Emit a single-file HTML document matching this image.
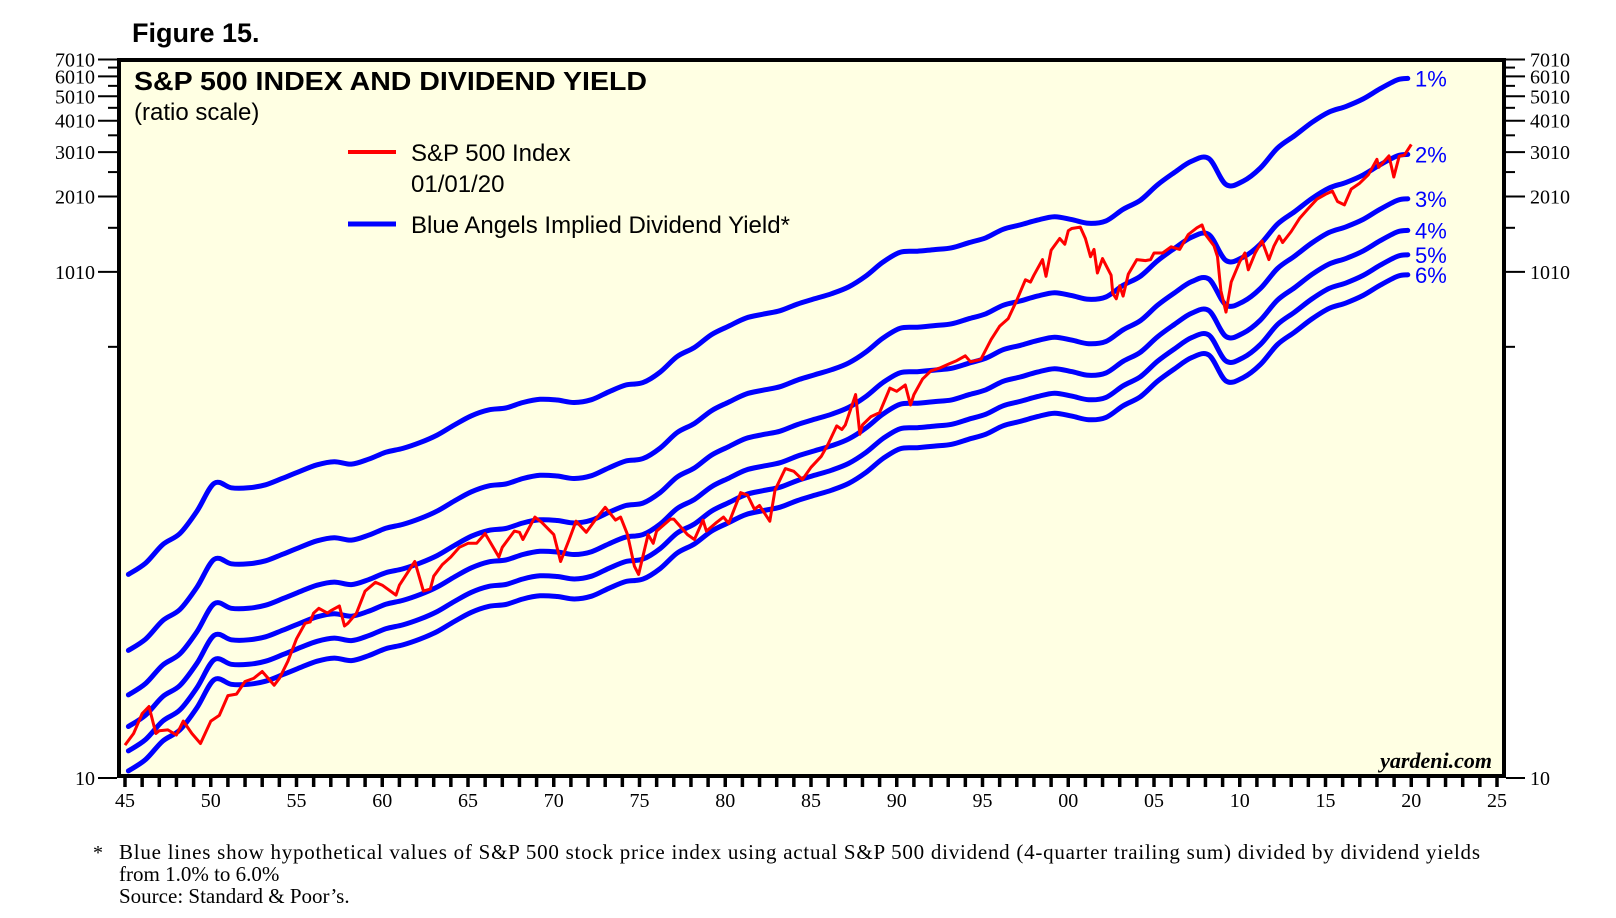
<!DOCTYPE html>
<html><head><meta charset="utf-8"><style>
html,body{margin:0;padding:0;background:#fff;}
svg{display:block;}
text{font-family:"Liberation Sans",sans-serif;}
.serif{font-family:"Liberation Serif",serif;}
</style></head><body>
<svg id="chart" width="1616" height="918" viewBox="0 0 1616 918" xmlns="http://www.w3.org/2000/svg">
<text x="132" y="42" font-size="27" font-weight="bold">Figure 15.</text>
<rect x="119" y="60" width="1385" height="716" fill="#ffffe3" stroke="#000" stroke-width="4"/>
<g id="axes"></g>
<g id="series"></g>
<text x="134" y="90" font-size="26" font-weight="bold" textLength="513" lengthAdjust="spacingAndGlyphs">S&amp;P 500 INDEX AND DIVIDEND YIELD</text>
<text x="134" y="120" font-size="24">(ratio scale)</text>
<line x1="348" y1="152" x2="396" y2="152" stroke="#f00" stroke-width="4"/>
<text x="411" y="161" font-size="24">S&amp;P 500 Index</text>
<text x="411" y="192" font-size="24">01/01/20</text>
<line x1="348" y1="224" x2="396" y2="224" stroke="#00f" stroke-width="5"/>
<text x="411" y="233" font-size="24">Blue Angels Implied Dividend Yield*</text>
<text class="serif" x="1492" y="768" font-size="22" font-style="italic" font-weight="bold" text-anchor="end">yardeni.com</text>
<text class="serif" x="93" y="859" font-size="20">*</text>
<text class="serif" x="119" y="859" font-size="21" textLength="1361">Blue lines show hypothetical values of S&amp;P 500 stock price index using actual S&amp;P 500 dividend (4-quarter trailing sum) divided by dividend yields</text>
<text class="serif" x="119" y="881" font-size="21">from 1.0% to 6.0%</text>
<text class="serif" x="119" y="903" font-size="21">Source: Standard &amp; Poor’s.</text>
</svg>
<script>
const divYears=[1945,1946,1947,1948,1949,1950,1951,1952,1953,1954,1955,1956,1957,1958,1959,1960,1961,1962,1963,1964,1965,1966,1967,1968,1969,1970,1971,1972,1973,1974,1975,1976,1977,1978,1979,1980,1981,1982,1983,1984,1985,1986,1987,1988,1989,1990,1991,1992,1993,1994,1995,1996,1997,1998,1999,2000,2001,2002,2003,2004,2005,2006,2007,2008,2009,2010,2011,2012,2013,2014,2015,2016,2017,2018,2019,2019.8];
const dividends=[0.64,0.71,0.84,0.93,1.14,1.47,1.41,1.41,1.45,1.54,1.64,1.74,1.79,1.75,1.83,1.95,2.02,2.13,2.28,2.50,2.72,2.87,2.92,3.07,3.16,3.14,3.07,3.15,3.38,3.60,3.68,4.05,4.67,5.07,5.70,6.16,6.63,6.87,7.09,7.53,7.90,8.28,8.81,9.73,11.05,12.09,12.20,12.38,12.58,13.18,13.79,14.90,15.50,16.20,16.71,16.27,15.74,16.08,17.88,19.41,22.34,25.05,27.73,28.39,22.41,23.12,26.02,31.25,34.99,39.44,43.39,45.70,48.93,53.75,58.24,59.0];
const yieldsPct=[1,2,3,4,5,6];
const yieldLabels=["1%","2%","3%","4%","5%","6%"];
const spTimes=[1945.0,1945.5,1946.0,1946.4,1946.8,1947.0,1947.5,1948.0,1948.4,1948.9,1949.4,1950.0,1950.5,1951.0,1951.5,1952.0,1952.5,1953.0,1953.7,1954.0,1954.5,1955.0,1955.5,1955.8,1956.0,1956.3,1956.8,1957.0,1957.5,1957.8,1958.0,1958.5,1959.0,1959.6,1960.0,1960.8,1961.0,1961.9,1962.4,1962.8,1963.0,1963.5,1964.0,1964.5,1965.0,1965.5,1966.0,1966.8,1967.0,1967.7,1968.0,1968.2,1968.9,1969.3,1969.8,1970.0,1970.4,1970.9,1971.3,1971.9,1972.5,1973.0,1973.6,1973.9,1974.3,1974.7,1974.95,1975.5,1975.8,1976.0,1976.8,1977.0,1977.8,1978.2,1978.7,1978.9,1979.5,1979.9,1980.2,1980.9,1981.3,1981.7,1982.0,1982.6,1982.9,1983.5,1984.0,1984.5,1985.0,1985.6,1986.0,1986.5,1986.8,1987.0,1987.6,1987.85,1988.0,1988.5,1989.0,1989.6,1990.0,1990.5,1990.8,1991.0,1991.5,1992.0,1992.5,1993.0,1993.5,1994.0,1994.3,1994.9,1995.5,1996.0,1996.5,1997.0,1997.5,1997.8,1998.0,1998.5,1998.7,1999.0,1999.5,1999.8,2000.0,2000.2,2000.7,2001.0,2001.3,2001.5,2001.7,2002.0,2002.5,2002.6,2002.8,2003.0,2003.2,2003.5,2004.0,2004.5,2004.8,2005.0,2005.5,2006.0,2006.5,2007.0,2007.5,2007.8,2008.0,2008.5,2008.7,2008.9,2009.2,2009.5,2010.0,2010.3,2010.5,2010.9,2011.3,2011.7,2012.0,2012.3,2012.5,2013.0,2013.5,2014.0,2014.5,2015.0,2015.4,2015.7,2016.1,2016.5,2017.0,2017.5,2018.0,2018.1,2018.7,2018.98,2019.3,2019.6,2020.0];
const spValues=[13.5,15,18.0,19.2,15,15.4,15.5,14.8,16.8,15.0,13.7,16.8,17.7,21.2,21.5,24.1,24.8,26.4,23.3,24.8,29,35.6,41,41.5,45,47,45,46,48,40,41,45,55,59.6,58,53,58,72,55,56,63,70,75,82,85,85,93,75,82,95,94,88,108,103,95,92,72,88,104,94,107,118,105,108,92,69,64,92,85,95,106,106,92,88,105,95,103,108,102,135,132,116,120,104,138,168,164,152,170,188,210,248,240,250,330,230,250,270,280,350,340,360,300,330,380,410,420,435,450,470,445,455,545,615,660,780,940,920,980,1130,970,1230,1370,1300,1470,1500,1520,1370,1160,1240,1000,1140,980,830,790,890,810,990,1130,1120,1130,1200,1200,1270,1240,1420,1510,1550,1420,1280,1160,850,700,920,1110,1200,1030,1200,1340,1130,1280,1400,1320,1460,1650,1800,1960,2050,2110,1920,1860,2150,2270,2450,2820,2620,2910,2400,2900,2930,3230];
const yMajor=[10,1010,2010,3010,4010,5010,6010,7010];
const yMinor=[510,1510,2510,3510,4510,5510,6510];
const xTickLabels=["45","50","55","60","65","70","75","80","85","90","95","00","05","10","15","20","25"];

const NS="http://www.w3.org/2000/svg";
const X0=125,PXY=17.15,Y10=778,PXD=252.5;
function xs(t){return X0+(t-1945)*PXY;}
function ys(v){return Y10-PXD*Math.log10(v/10);}
function mk(tag,attrs,parent){const e=document.createElementNS(NS,tag);for(const k in attrs)e.setAttribute(k,attrs[k]);parent.appendChild(e);return e;}
const axes=document.getElementById('axes');
const series=document.getElementById('series');

yMajor.forEach(v=>{
  const y=ys(v);
  const l=mk('line',{x1:98,x2:117,y1:y,y2:y,stroke:'#000','stroke-width':2},axes);
  
  
  const r=mk('line',{x1:1506,x2:1525,y1:y,y2:y,stroke:'#000','stroke-width':2},axes);
  
  
  const t=mk('text',{x:95,y:y+7,'font-size':20,'text-anchor':'end','class':'serif'},axes);
  t.textContent=v;
  
  
  const t2=mk('text',{x:1530,y:y+7,'font-size':20,'class':'serif'},axes);
  t2.textContent=v;
  
  
});
yMinor.forEach(v=>{
  const y=ys(v);
  const l=mk('line',{x1:108,x2:117,y1:y,y2:y,stroke:'#000','stroke-width':2},axes);
  
  
  const r=mk('line',{x1:1506,x2:1515,y1:y,y2:y,stroke:'#000','stroke-width':2},axes);
  
  
});
for(let yr=1945;yr<=2025;yr++){
  const x=xs(yr);
  const l=mk('line',{x1:x,x2:x,y1:776,y2:787,stroke:'#000','stroke-width':3.5},axes);
  
  
}
xTickLabels.forEach((lab,i)=>{
  const t=mk('text',{x:xs(1945+5*i),y:807,'font-size':20,'text-anchor':'middle','class':'serif'},axes);
  t.textContent=lab;
  
  
});

function smoothPath(pts){
  let d='M'+pts[0][0].toFixed(1)+','+pts[0][1].toFixed(1);
  for(let i=0;i<pts.length-1;i++){
    const p0=pts[i-1]||pts[i],p1=pts[i],p2=pts[i+1],p3=pts[i+2]||p2;
    const c1=[p1[0]+(p2[0]-p0[0])/6,p1[1]+(p2[1]-p0[1])/6];
    const c2=[p2[0]-(p3[0]-p1[0])/6,p2[1]-(p3[1]-p1[1])/6];
    d+='C'+c1[0].toFixed(1)+','+c1[1].toFixed(1)+' '+c2[0].toFixed(1)+','+c2[1].toFixed(1)+' '+p2[0].toFixed(1)+','+p2[1].toFixed(1);
  }
  return d;
}
yieldsPct.forEach((yp,i)=>{
  const pts=divYears.map((yr,j)=>[xs(Math.min(yr+0.2,2019.8)),ys(dividends[j]/(yp/100))]);
  const p=mk('path',{d:smoothPath(pts),fill:'none',stroke:'#00f','stroke-width':5,'stroke-linejoin':'round','stroke-linecap':'round'},series);
  
  
  const last=pts[pts.length-1];
  const t=mk('text',{x:1415,y:last[1]+8,'font-size':22,fill:'#00f'},series);
  t.textContent=yieldLabels[i];
  
  
});
let d='';
spTimes.forEach((t,i)=>{d+=(i?'L':'M')+xs(t).toFixed(1)+','+ys(spValues[i]).toFixed(1);});
const sp=mk('path',{d:d,fill:'none',stroke:'#f00','stroke-width':3,'stroke-linejoin':'round'},series);


</script>
</body></html>
